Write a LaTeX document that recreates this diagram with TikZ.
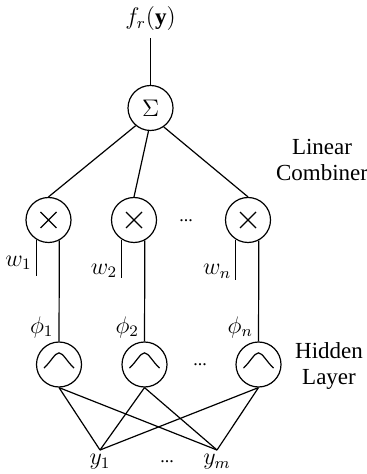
\documentclass[tikz,border=0pt]{standalone}
\usepackage{fontspec}
\setmainfont{Liberation Serif}
\usepackage{tikz}
\usetikzlibrary{positioning}

\begin{document}
\begin{tikzpicture}[
    x=0.5pt, y=-0.5pt,
    font=\fontsize{11.5}{13}\selectfont,
    unit/.style={circle, draw, line width=0.6pt, minimum size=22.5pt, inner sep=0pt},
    prodnode/.style={unit, path picture={\draw[line width=0.6pt, shift={(path picture bounding box.center)}] (-4pt,-4pt) -- (4pt,4pt) (-4pt,4pt) -- (4pt,-4pt);}},
    rbfnode/.style={unit, path picture={\draw[line width=0.6pt, shift={(path picture bounding box.center)}] (-7.5pt,-1.8pt) .. controls (-4pt,1.5pt) and (-2pt,5.8pt) .. (0pt,5.8pt) .. controls (2pt,5.8pt) and (4pt,1.5pt) .. (7.5pt,-1.8pt);}},
    dotsnode/.style={font=\fontsize{9}{10}\selectfont, inner sep=0pt},
    link/.style={line width=0.6pt},
    side/.style={align=center}
]
\useasboundingbox (0,0) rectangle (367,474);

% Output and sum
\node (out) at (150.5,19) {$f_r(\mathbf{y})$};
\node[unit] (sum) at (150.5,108) {$\Sigma$};

% Weight multipliers
\node[prodnode] (p1) at (48.5,220) {};
\node[prodnode] (p2) at (134,220) {};
\node[prodnode] (p3) at (248,220) {};
\node[dotsnode] (pdots) at (186,221) {...};

% Hidden units
\node[rbfnode] (h1) at (59,364.5) {};
\node[rbfnode] (h2) at (144.5,364.5) {};
\node[rbfnode] (h3) at (258.5,364.5) {};
\node[dotsnode] (hdots) at (200,365) {...};

% Inputs
\coordinate (y1) at (100,450);
\coordinate (ym) at (217,450);
\node[below=1pt of y1, inner sep=1pt] (ly1) {$y_1$};
\node[below=1pt of ym, inner sep=1pt] (lym) {$y_m$};
\node[dotsnode] (ydots) at (167,462) {...};

% Layer captions
\node[side] (lin) at (322,160) {Linear\\Combiner};
\node[side] (hid) at (329,366) {Hidden\\Layer};

% Connections
\draw[link] (out) -- (sum);
\draw[link] (sum.-130) -- (p1.north);
\draw[link] (sum.-95) -- (p2.north);
\draw[link] (sum.-55) -- (p3.north);

\draw[link] (p1.-122) -- ++(0,36) node[pos=0.65, left, inner sep=2pt] {$w_1$};
\draw[link] (p2.-122) -- ++(0,38) node[pos=0.82, left, inner sep=2pt] {$w_2$};
\draw[link] (p3.-122) -- ++(0,40) node[pos=0.8, left, inner sep=2pt] {$w_n$};

\draw[link] (p1.-62) -- node[pos=0.86, left, inner sep=2.5pt] {$\phi_1$} (h1.north);
\draw[link] (p2.-62) -- node[pos=0.86, left, inner sep=2.5pt] {$\phi_2$} (h2.north);
\draw[link] (p3.-62) -- node[pos=0.86, left, inner sep=2.5pt] {$\phi_n$} (h3.north);

\draw[link] (h1.south) -- (y1) (h1.south) -- (ym);
\draw[link] (h2.south) -- (y1) (h2.south) -- (ym);
\draw[link] (h3.south) -- (y1) (h3.south) -- (ym);

\end{tikzpicture}
\end{document}
